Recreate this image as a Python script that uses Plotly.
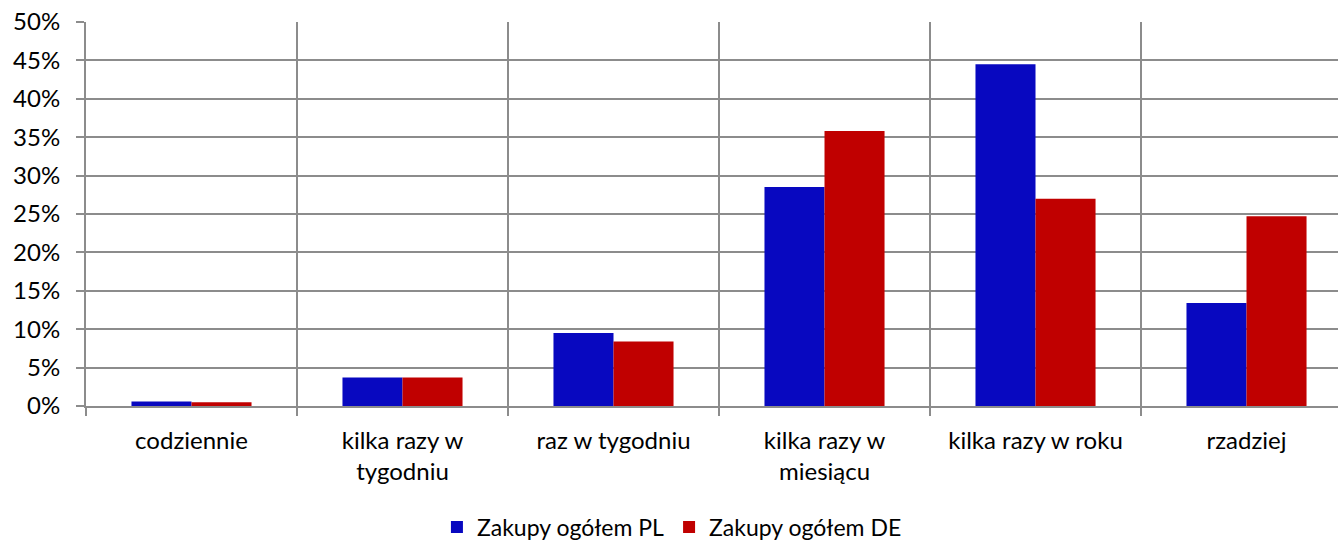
import plotly.graph_objects as go

categories = ["codziennie", "kilka razy w<br>tygodniu", "raz w tygodniu",
              "kilka razy w<br>miesiącu", "kilka razy w roku", "rzadziej"]
pl_values = [0.006, 0.037, 0.095, 0.285, 0.445, 0.134]
de_values = [0.005, 0.037, 0.084, 0.358, 0.270, 0.247]
series_names = ["Zakupy ogółem PL", "Zakupy ogółem DE"]
colors = ["#0808C0", "#C00000"]

FONT = "Lato"
fig = go.Figure()
for name, vals, col in zip(series_names, [pl_values, de_values], colors):
    fig.add_trace(go.Bar(x=categories, y=vals, name=name,
                         marker=dict(color=col, line=dict(width=0))))

fig.update_layout(
    width=1338, height=540,
    margin=dict(l=86, r=0, t=22, b=134),
    paper_bgcolor="white", plot_bgcolor="white",
    barmode="group", bargap=0.431, bargroupgap=0,
    font=dict(family=FONT, size=24, color="black"),
    showlegend=True,
    legend=dict(orientation="h", x=0.468, xanchor="center",
                yref="container", y=0.024, yanchor="middle",
                font=dict(family=FONT, size=23), itemwidth=30, traceorder="normal"),
)
fig.update_xaxes(
    type="category", range=[-0.5, 5.4336], automargin=False,
    tickson="boundaries", showgrid=True, gridcolor="#8c8c8c", gridwidth=2,
    ticks="outside", ticklen=8, tickwidth=2, tickcolor="#8c8c8c",
    showline=True, linecolor="#8c8c8c", linewidth=2,
    tickfont=dict(family=FONT, size=24), ticklabelstandoff=12,
)
fig.update_yaxes(
    range=[0, 0.50001], tickmode="linear", tick0=0, dtick=0.05, tickformat=".0%",
    automargin=False, ticklabeloverflow="allow",
    showgrid=True, gridcolor="#8c8c8c", gridwidth=2,
    ticks="outside", ticklen=8, tickwidth=2, tickcolor="#8c8c8c",
    showline=True, linecolor="#8c8c8c", linewidth=2, zeroline=False,
    tickfont=dict(family=FONT, size=24), ticklabelstandoff=11,
)
fig.write_html("out.html", config={"displayModeBar": False},
               post_script="document.body.style.margin='0';document.body.style.overflow='hidden';")
